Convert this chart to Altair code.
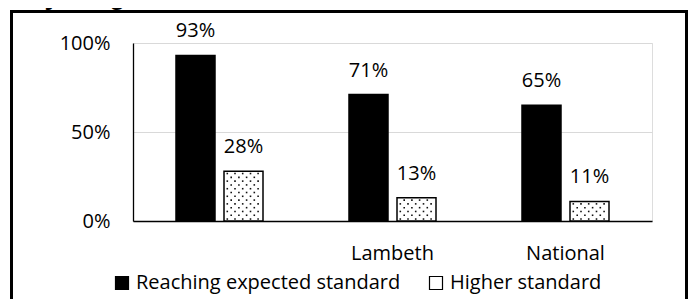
import altair as alt
import pandas as pd

# ---- data ----
categories = [" ", "Lambeth", "National"]
series = ["Reaching expected standard", "Higher standard"]
expected = [93, 71, 65]
higher = [28, 13, 11]
title_text = "Key Stage 2 RWM combined"

rows = []
for c, e, h in zip(categories, expected, higher):
    rows.append({"category": c, "series": series[0], "value": e})
    rows.append({"category": c, "series": series[1], "value": h})
df = pd.DataFrame(rows)

FONT = "Open Sans"
FS = 20
W, H = 519, 178

x_axis = alt.Axis(title=None, labelAngle=0, labelFontSize=FS, labelFont=FONT,
                  labelColor="black", domainColor="black", domainWidth=1.5,
                  ticks=False, tickSize=0, labelPadding=22)
y_axis = alt.Axis(title=None, values=[0, 50, 100], labelExpr="datum.value + '%'",
                  grid=True, gridColor="#d9d9d9", gridWidth=1.2,
                  domain=True, domainColor="black", domainWidth=1.3,
                  ticks=False, tickSize=0, labelPadding=23,
                  labelFontSize=FS, labelFont=FONT, labelColor="black")
y_scale = alt.Scale(domain=[0, 100])

x_enc = alt.X("category:N", sort=categories,
              scale=alt.Scale(paddingInner=0, paddingOuter=0), axis=x_axis)
xoff_enc = alt.XOffset("series:N", sort=series,
                       scale=alt.Scale(paddingInner=0.1875, paddingOuter=0.8958))

bars = alt.Chart(df).mark_bar(stroke="black", strokeWidth=1.5).encode(
    x=x_enc,
    xOffset=xoff_enc,
    y=alt.Y("value:Q", scale=y_scale, axis=y_axis),
    color=alt.Color("series:N", sort=series,
                    scale=alt.Scale(domain=series, range=["#000000", "#ffffff"]),
                    legend=alt.Legend(orient="none", legendX=-21, legendY=230,
                                      direction="horizontal", title=None,
                                      symbolType="square", symbolSize=169,
                                      symbolStrokeColor="black", symbolStrokeWidth=1.2,
                                      labelFontSize=FS, labelFont=FONT, labelColor="black",
                                      labelLimit=500,
                                      labelOffset=4, columnPadding=25, padding=0)),
)

labels = alt.Chart(df).transform_calculate(
    lbl="datum.value + '%'"
).mark_text(baseline="alphabetic", dy=-18, fontSize=FS, font=FONT, color="black").encode(
    x=x_enc,
    xOffset=xoff_enc,
    y=alt.Y("value:Q", scale=y_scale, axis=y_axis),
    text="lbl:N",
)

# dotted fill pattern for the "Higher standard" bars
even_cols = [7.8, 15.5, 23.2, 31.0, 38.6]
odd_cols = [11.7, 19.4, 27.1, 34.8]
dot_layers = []
for cols, start in ((even_cols, 1.1), (odd_cols, 3.23)):
    for off in cols:
        dot_layers.append(
            alt.Chart(df)
            .transform_filter(alt.datum.series == series[1])
            .transform_calculate(value="sequence(%s, datum.value - 1.0, 4.26)" % start)
            .transform_flatten(["value"])
            .mark_square(size=2.5, color="#111111", opacity=1, xOffset=off)
            .encode(x=x_enc,
                    y=alt.Y("value:Q", scale=y_scale, axis=y_axis))
        )

one = alt.Data(values=[{}])
frame = alt.Chart(one).mark_rect(fillOpacity=0, stroke="black", strokeWidth=3).encode(
    x=alt.value(-121.5), x2=alt.value(553.5), y=alt.value(-31.5), y2=alt.value(300)
)
title = alt.Chart(one).mark_text(text=title_text, align="left", baseline="alphabetic",
                                 fontSize=27, fontWeight="bold", font="Liberation Sans",
                                 color="black").encode(
    x=alt.value(-123), y=alt.value(-39)
)

chart = alt.layer(bars, *dot_layers, labels, frame, title).properties(
    width=W, height=H,
    autosize="none",
    padding={"left": 125, "top": 35, "right": 39, "bottom": 78},
).configure_view(strokeWidth=0).configure(font=FONT)

chart.save("out.html", embed_options={"renderer": "svg", "actions": False})
